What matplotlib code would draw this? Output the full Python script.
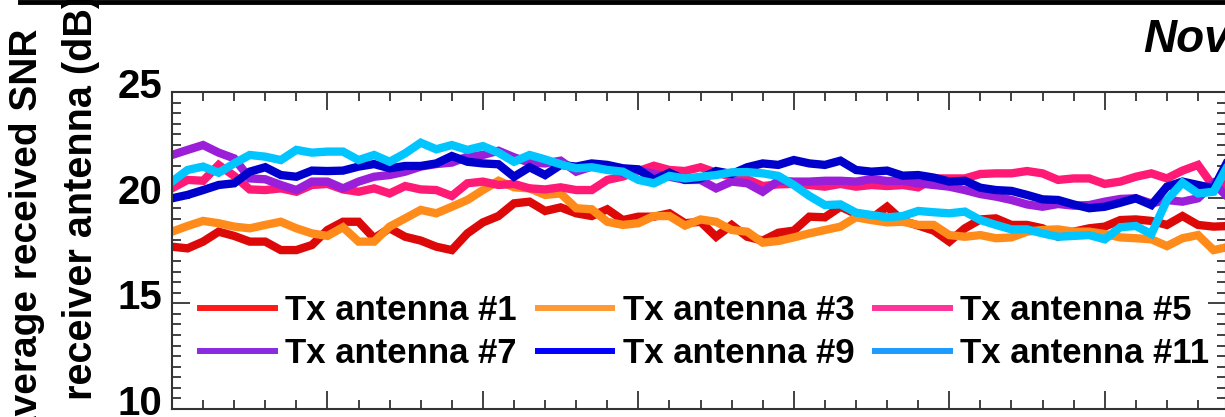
import numpy as np
import matplotlib
matplotlib.use("Agg")
import matplotlib.pyplot as plt
import matplotlib.transforms as mtransforms
from matplotlib.lines import Line2D
from matplotlib.ticker import MultipleLocator

plt.rcParams["font.family"] = ["Liberation Sans", "DejaVu Sans"]
plt.rcParams["font.weight"] = "bold"


#####################
### Data (day of month, SNR dB), sampled every half day
#####################
day = np.arange(0, 34.5, 0.5)

snr_tx1 = [17.68, 17.60, 17.92, 18.39, 18.19, 17.92, 17.92, 17.52, 17.52, 17.76,
           18.47, 18.86, 18.86, 18.08, 18.55, 18.15, 17.97, 17.68, 17.52, 18.31,
           18.83, 19.13, 19.73, 19.81, 19.37, 19.54, 19.26, 19.13, 19.45, 18.94,
           19.10, 19.10, 19.26, 18.79, 18.86, 18.15, 18.71, 18.15, 17.97, 18.34,
           18.44, 19.10, 19.07, 19.57, 19.23, 19.02, 19.57, 18.91, 18.68, 18.44,
           17.92, 18.55, 18.97, 19.02, 18.71, 18.71, 18.55, 18.15, 18.39, 18.55,
           18.63, 18.94, 18.97, 18.90, 18.71, 19.13, 18.71, 18.63, 18.66]
snr_tx3 = [18.39, 18.66, 18.90, 18.79, 18.63, 18.55, 18.71, 18.86, 18.55, 18.31,
           18.19, 18.60, 17.92, 17.92, 18.63, 19.02, 19.42, 19.26, 19.57, 19.89,
           20.36, 20.80, 20.49, 20.44, 20.13, 20.20, 19.50, 19.45, 18.86, 18.71,
           18.79, 19.13, 19.13, 18.68, 18.97, 18.86, 18.47, 18.39, 17.87, 17.95,
           18.12, 18.31, 18.47, 18.63, 19.07, 18.94, 18.83, 18.86, 18.71, 18.71,
           18.23, 18.15, 18.23, 18.08, 18.12, 18.39, 18.47, 18.50, 18.39, 18.39,
           18.28, 18.12, 18.08, 18.03, 17.71, 18.08, 18.23, 17.52, 17.68]
snr_tx5 = [20.44, 20.84, 20.80, 21.55, 21.03, 20.39, 20.36, 20.44, 20.28, 20.60,
           20.65, 20.39, 20.28, 20.44, 20.20, 20.55, 20.39, 20.36, 20.08, 20.68,
           20.76, 20.60, 20.65, 20.44, 20.39, 20.49, 20.36, 20.36, 20.84, 21.00,
           21.26, 21.51, 21.31, 21.26, 21.44, 21.18, 21.00, 20.87, 20.55, 20.63,
           20.65, 20.60, 20.52, 20.65, 20.52, 20.60, 20.55, 20.60, 20.49, 20.91,
           20.91, 20.91, 21.12, 21.15, 21.15, 21.26, 21.15, 20.84, 20.91, 20.91,
           20.65, 20.76, 20.99, 21.15, 20.91, 21.28, 21.55, 20.52, 20.68]
snr_tx7 = [22.02, 22.26, 22.49, 22.13, 21.86, 20.91, 20.87, 20.60, 20.36, 20.76,
           20.76, 20.44, 20.76, 20.99, 21.07, 21.23, 21.47, 21.59, 21.66, 21.94,
           22.02, 22.22, 21.91, 21.66, 21.62, 21.75, 21.23, 21.47, 21.47, 21.15,
           21.31, 21.12, 20.99, 20.84, 20.84, 20.44, 20.76, 20.68, 20.28, 20.80,
           20.76, 20.76, 20.80, 20.80, 20.76, 20.88, 20.79, 20.79, 20.68, 20.60,
           20.52, 20.36, 20.17, 20.05, 19.89, 19.68, 19.57, 19.70, 19.62, 19.65,
           19.81, 19.94, 19.97, 19.73, 19.89, 19.81, 19.97, 20.68, 19.97]
snr_tx9 = [19.97, 20.13, 20.36, 20.60, 20.68, 21.23, 21.44, 21.07, 20.99, 21.28,
           21.26, 21.28, 21.47, 21.59, 21.39, 21.50, 21.50, 21.62, 21.97, 21.70,
           21.62, 21.58, 20.99, 21.44, 21.07, 21.55, 21.47, 21.62, 21.55, 21.39,
           21.34, 20.84, 21.18, 20.84, 20.91, 21.26, 21.12, 21.44, 21.62, 21.55,
           21.78, 21.62, 21.55, 21.75, 21.31, 21.23, 21.28, 21.04, 21.07, 20.95,
           20.76, 20.80, 20.47, 20.36, 20.32, 20.13, 19.92, 19.89, 19.68, 19.50,
           19.57, 19.76, 19.97, 19.65, 20.52, 20.76, 20.60, 20.44, 21.86]
snr_tx11 = [20.76, 21.31, 21.47, 21.18, 21.62, 22.02, 21.94, 21.78, 22.26, 22.13,
            22.18, 22.18, 21.78, 22.02, 21.70, 22.10, 22.60, 22.29, 22.49, 22.26,
            22.44, 22.13, 21.70, 22.02, 21.81, 21.58, 21.39, 21.44, 21.31, 21.23,
            20.84, 20.68, 21.03, 20.91, 20.99, 21.07, 21.20, 21.21, 21.15, 21.03,
            20.60, 20.08, 19.65, 19.68, 19.29, 19.18, 19.07, 19.13, 19.37, 19.31,
            19.26, 19.34, 18.94, 18.71, 18.50, 18.50, 18.31, 18.15, 18.19, 18.23,
            18.03, 18.60, 18.66, 18.28, 19.89, 20.71, 20.20, 20.28, 21.62]

labels = ["Tx antenna #1", "Tx antenna #3", "Tx antenna #5",
          "Tx antenna #7", "Tx antenna #9", "Tx antenna #11"]
line_colors = ["#DD0808", "#FF8C1A", "#FF1A75", "#9B1ED8", "#0000CC", "#00C5FF"]
legend_colors = ["#FF1A1A", "#FF9933", "#FF3399", "#8A2BE2", "#0000FF", "#1E9BFF"]


#####################
### Plot
#####################
fig = plt.figure(figsize=(12.25, 4.17), dpi=100)
W, H = 1225.0, 417.0
ax = fig.add_axes([172 / W, 8 / H, 1054 / W, 317 / H])

series = [snr_tx1, snr_tx3, snr_tx5, snr_tx7, snr_tx9, snr_tx11]
for y, c in zip(series, line_colors):
    ax.plot(day, y, color=c, lw=6, solid_joinstyle="miter")

ax.set_xlim(0, 33.9)
ax.set_ylim(10, 25)
ax.xaxis.set_major_locator(MultipleLocator(5))
ax.xaxis.set_minor_locator(MultipleLocator(1))
ax.yaxis.set_major_locator(MultipleLocator(5))
ax.yaxis.set_minor_locator(MultipleLocator(0.5))
ax.tick_params(which="both", direction="in", top=True, right=True, color="#333333", width=1.3)
ax.tick_params(which="major", length=13)
ax.tick_params(which="minor", length=6.5)
ax.tick_params(axis="y", labelsize=29, pad=7)
ax.set_xticklabels([])
for s in ax.spines.values():
    s.set_linewidth(1.5)
    s.set_color("#333333")
for lab in ax.get_yticklabels():
    lab.set_fontweight("bold")
    lab.set_transform(lab.get_transform() + mtransforms.ScaledTranslation(0, 9 / 100, fig.dpi_scale_trans))

# legend (matplotlib fills column-major)
handles = [Line2D([], [], color=c, lw=4.3) for c in legend_colors]
order = [0, 3, 1, 4, 2, 5]
ax.legend([handles[i] for i in order], [labels[i] for i in order], ncol=3,
          loc="center left", bbox_to_anchor=(28 / 1054, 0.243), frameon=False,
          handlelength=2.15, handletextpad=0.3, columnspacing=0.6,
          labelspacing=0.27, borderpad=0, borderaxespad=0,
          prop={"weight": "bold", "size": 25})

# y label (two lines, cropped)
fig.text(37 / W, (417 - 28) / H, "Average received SNR", rotation=90, rotation_mode="anchor",
         ha="right", va="baseline", fontsize=28, fontweight="bold")
fig.text(92 / W, (417 - 400) / H, "receiver antenna (dB)", rotation=90, rotation_mode="anchor",
         ha="left", va="baseline", fontsize=28.5, fontweight="bold")

# title (cropped) and border line from panel above
fig.text(1143 / W, (417 - 52) / H, "November", fontsize=33, fontweight="bold", style="italic")
fig.add_artist(Line2D([20 / W, 1.0], [1 - 1.5 / H, 1 - 1.5 / H], color="black", lw=3.5,
                      transform=fig.transFigure))

plt.savefig("out.png", dpi=100)
